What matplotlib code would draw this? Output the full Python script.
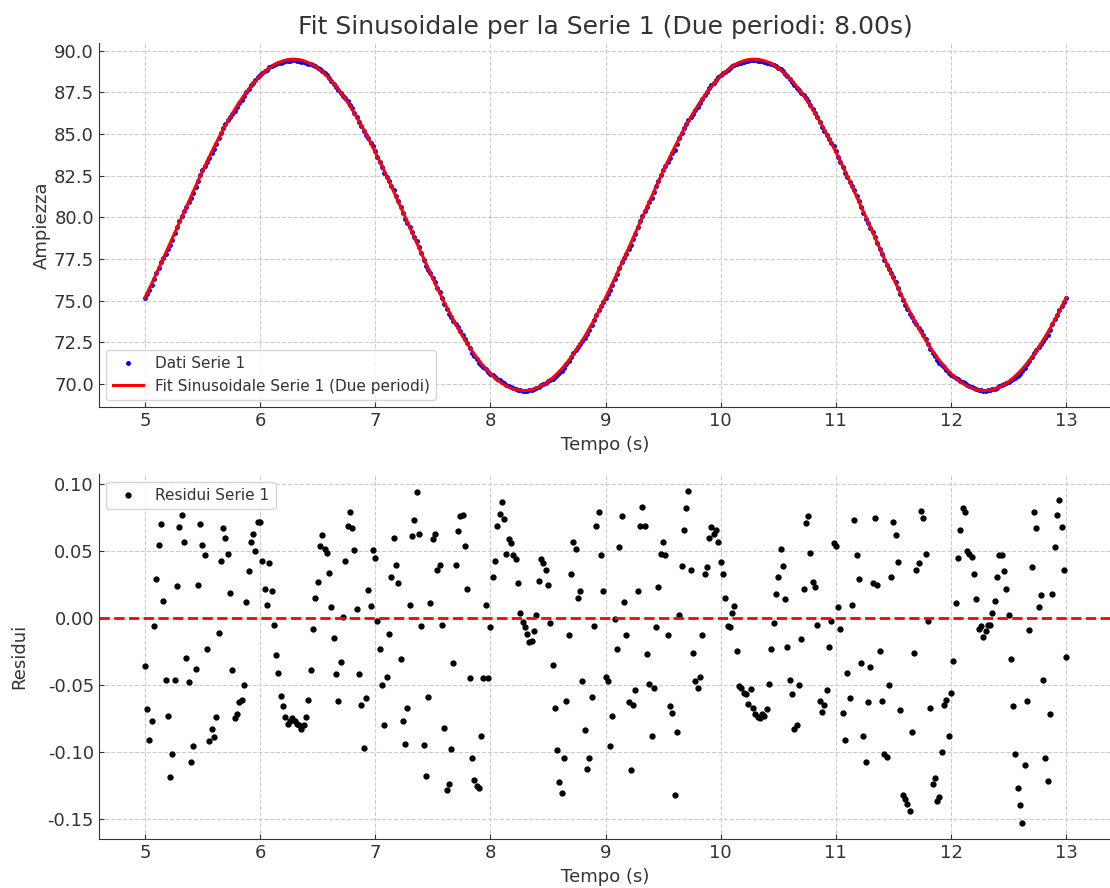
import numpy as np
import matplotlib
matplotlib.use('Agg')
import matplotlib.pyplot as plt
import matplotlib.ticker as ticker

# sampling: 401 points, 0.02 s apart, from 5 s to 13 s
t_start, t_end, n_points = 5.0, 13.0, 401

# sinusoidal fit parameters (two periods over 8 s)
fit_offset = 79.55
fit_amplitude = 9.93
fit_period = 4.0
fit_t0 = 5.29

# residuals (data - fit), one per sample
residuals = [
    -0.036, -0.068, -0.091, -0.077, -0.006, 0.029, 0.055, 0.070, 0.013, -0.046,
    -0.073, -0.119, -0.102, -0.046, 0.024, 0.068, 0.077, 0.057, -0.030, -0.048,
    -0.108, -0.096, -0.038, 0.025, 0.070, 0.055, 0.047, -0.023, -0.092, -0.083,
    -0.089, -0.074, -0.011, 0.043, 0.067, 0.060, 0.048, 0.019, -0.039, -0.075,
    -0.072, -0.063, -0.061, -0.050, 0.012, 0.035, 0.057, 0.063, 0.050, 0.072,
    0.072,
    # 6.02 - 7.00
    0.043, 0.022, 0.010, 0.041, 0.020, -0.005, -0.028, -0.041, -0.058, -0.066,
    -0.074, -0.079, -0.077, -0.075, -0.077, -0.079, -0.080, -0.083, -0.080, -0.074,
    -0.061, -0.039, -0.008, 0.015, 0.027, 0.054, 0.062, 0.052, 0.049, 0.034,
    0.008, -0.015, -0.042, -0.062, -0.033, 0.001, 0.043, 0.069, 0.079, 0.067,
    0.051, 0.007, -0.042, -0.065, -0.097, -0.060, 0.021, 0.009, 0.051, 0.045,
    # 7.02 - 8.00
    -0.002, -0.023, -0.050, -0.080, -0.044, -0.012, 0.031, 0.060, 0.040, 0.026,
    -0.031, -0.077, -0.094, -0.067, 0.010, 0.061, 0.073, 0.094, 0.063, -0.006,
    -0.095, -0.118, -0.059, 0.011, 0.059, 0.063, 0.036, 0.040, -0.005, -0.082,
    -0.129, -0.124, -0.098, -0.034, 0.040, 0.065, 0.076, 0.077, 0.054, 0.022,
    -0.045, -0.105, -0.121, -0.126, -0.127, -0.088, -0.045, 0.010, -0.045, -0.007,
    # 8.02 - 9.00
    0.031, 0.043, 0.069, 0.078, 0.087, 0.074, 0.048, 0.059, 0.056, 0.047,
    0.044, 0.026, 0.004, -0.003, -0.007, -0.012, -0.018, -0.017, -0.010, 0.002,
    0.028, 0.044, 0.041, 0.036, 0.025, -0.004, -0.035, -0.067, -0.099, -0.123,
    -0.131, -0.105, -0.062, -0.013, 0.033, 0.057, 0.052, 0.015, 0.020, -0.047,
    -0.084, -0.113, -0.105, -0.059, -0.006, 0.069, 0.079, 0.047, 0.020, -0.044,
    # 9.02 - 10.00
    -0.047, -0.096, -0.073, -0.001, -0.023, 0.053, 0.076, 0.012, -0.013, -0.063,
    -0.114, -0.065, -0.054, 0.020, 0.069, 0.083, 0.069, -0.027, -0.049, -0.088,
    -0.052, -0.007, 0.023, 0.048, 0.057, 0.047, -0.013, -0.066, -0.071, -0.132,
    -0.085, 0.002, 0.039, 0.066, 0.082, 0.095, 0.036, -0.026, -0.047, -0.052,
    -0.044, -0.013, 0.033, 0.038, 0.060, 0.068, 0.063, 0.066, 0.057, 0.042,
    # 10.02 - 11.00
    0.033, 0.015, -0.006, -0.007, 0.004, 0.009, -0.025, -0.051, -0.052, -0.056,
    -0.057, -0.064, -0.053, -0.067, -0.072, -0.074, -0.075, -0.072, -0.073, -0.068,
    -0.049, -0.023, -0.004, 0.018, 0.031, 0.052, 0.039, 0.014, -0.022, -0.046,
    -0.057, -0.083, -0.080, -0.050, -0.016, 0.022, 0.071, 0.076, 0.049, 0.027,
    0.023, -0.005, -0.062, -0.070, -0.065, -0.054, -0.022, -0.002, 0.056, 0.054,
    # 11.02 - 12.00
    0.008, -0.008, -0.071, -0.091, -0.041, -0.060, 0.010, 0.073, 0.047, 0.029,
    -0.034, -0.088, -0.108, -0.063, -0.037, 0.026, 0.075, 0.025, -0.025, -0.062,
    -0.102, -0.104, -0.050, 0.031, 0.072, 0.062, 0.042, -0.069, -0.132, -0.135,
    -0.139, -0.144, -0.085, -0.026, 0.036, 0.041, 0.080, 0.075, 0.048, -0.002,
    -0.067, -0.124, -0.120, -0.137, -0.134, -0.100, -0.065, -0.061, -0.088, -0.056,
    # 12.02 - 13.00
    -0.032, 0.011, 0.045, 0.066, 0.082, 0.079, 0.050, 0.048, 0.046, 0.033,
    0.014, -0.008, -0.006, -0.014, -0.010, -0.005, -0.005, 0.004, 0.013, 0.031,
    0.047, 0.047, 0.035, 0.022, 0.002, -0.031, -0.066, -0.102, -0.127, -0.140,
    -0.153, -0.110, -0.062, -0.009, 0.038, 0.079, 0.067, 0.008, 0.017, -0.046,
    -0.105, -0.122, -0.072, 0.018, 0.053, 0.077, 0.088, 0.068, 0.036, -0.029,
]

x_ticks = [5, 6, 7, 8, 9, 10, 11, 12, 13]

t = np.linspace(t_start, t_end, n_points)
fit = fit_offset + fit_amplitude * np.sin(2 * np.pi * (t - fit_t0) / fit_period)
res = np.array(residuals)
data = fit + res

text_col = '#333333'
plt.rcParams['font.family'] = 'DejaVu Sans'
plt.rcParams['text.color'] = text_col
plt.rcParams['axes.labelcolor'] = text_col
plt.rcParams['xtick.color'] = text_col
plt.rcParams['ytick.color'] = text_col
plt.rcParams['xtick.direction'] = 'in'
plt.rcParams['ytick.direction'] = 'in'

fig, (ax1, ax2) = plt.subplots(2, 1, figsize=(11.1, 8.88), dpi=100)
fig.subplots_adjust(left=0.089, right=1.002, top=0.952, bottom=0.055, hspace=0.184)

# top: data and fitted sine
ax1.plot(t, data, 'o', color='blue', markersize=2.5, label='Dati Serie 1')
ax1.plot(t, fit, color='red', linewidth=2.2, label='Fit Sinusoidale Serie 1 (Due periodi)')
ax1.set_title('Fit Sinusoidale per la Serie 1 (Due periodi: 8.00s)', fontsize=18, color=text_col)
ax1.set_xlabel('Tempo (s)', fontsize=13)
ax1.set_ylabel('Ampiezza', fontsize=13, labelpad=2)
ax1.yaxis.set_major_locator(ticker.MultipleLocator(2.5))
ax1.yaxis.set_major_formatter(ticker.FormatStrFormatter('%.1f'))
ax1.legend(loc='lower left', fontsize=11)

# bottom: residuals
ax2.plot(t, res, 'o', color='black', markersize=3.5, label='Residui Serie 1')
ax2.axhline(0, color='red', linestyle='--', linewidth=2)
ax2.set_xlabel('Tempo (s)', fontsize=13)
ax2.set_ylabel('Residui', fontsize=13, labelpad=14)
ax2.yaxis.set_major_locator(ticker.MultipleLocator(0.05))
ax2.yaxis.set_major_formatter(ticker.FormatStrFormatter('%.2f'))
ax2.legend(loc='upper left', fontsize=11)

for ax in (ax1, ax2):
    ax.set_xticks(x_ticks)
    ax.tick_params(labelsize=13)
    ax.grid(True, linestyle='--', color='#cccccc', linewidth=0.8)
    ax.spines['top'].set_visible(False)
    ax.spines['right'].set_visible(False)
    ax.spines['left'].set_color(text_col)
    ax.spines['bottom'].set_color(text_col)

plt.savefig('out.png', dpi=100)
